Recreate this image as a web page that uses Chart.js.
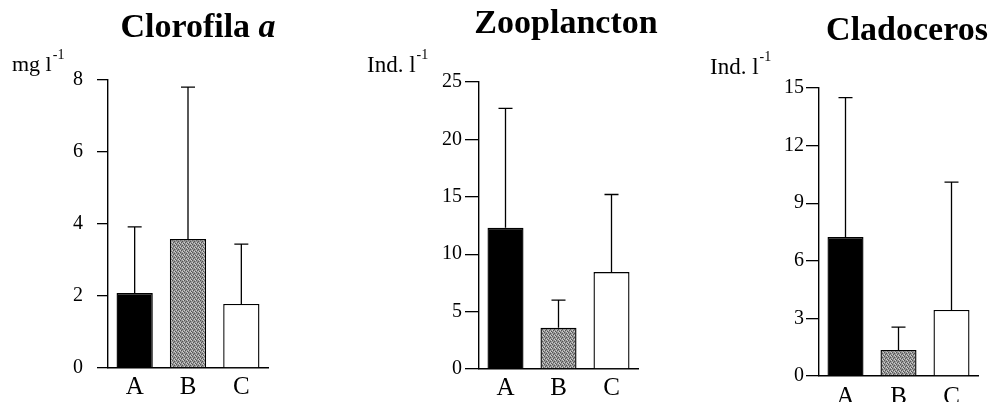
<!DOCTYPE html>
<html>
<head>
<meta charset="utf-8">
<script src="https://cdn.jsdelivr.net/npm/chart.js@4.4.1/dist/chart.umd.min.js"></script>
<style>
  html, body { margin: 0; padding: 0; background: #fff; }
  #wrap { position: relative; width: 994px; height: 402px; }
  #wrap canvas { position: absolute; left: 0; top: 0; }
</style>
</head>
<body>
<div id="wrap">
  <canvas id="c1" width="994" height="402"></canvas>
  <canvas id="c2" width="994" height="402"></canvas>
  <canvas id="c3" width="994" height="402"></canvas>
</div>
<script>
// Data
const categories = ['A', 'B', 'C'];

const clorofilaMean = [2.08, 3.58, 1.78];
const clorofilaErr = [3.92, 7.8, 3.44];

const zooMean = [12.3, 3.6, 8.45];
const zooErr = [22.7, 6.0, 15.2];

const cladoMean = [7.24, 1.35, 3.44];
const cladoErr = [14.5, 2.55, 10.1];

const serif = "'Liberation Serif', 'Times New Roman', serif";

// grey stipple for group B
function makeStipple() {
  const c = document.createElement('canvas');
  c.width = 4; c.height = 4;
  const x = c.getContext('2d');
  x.fillStyle = '#959595';
  x.fillRect(0, 0, 4, 4);
  x.fillStyle = '#555';
  [[0, 0], [2, 1], [1, 2], [3, 3]].forEach(p => x.fillRect(p[0], p[1], 1, 1));
  x.fillStyle = '#cfcfcf';
  [[2, 3], [0, 2], [3, 0]].forEach(p => x.fillRect(p[0], p[1], 1, 1));
  return x.createPattern(c, 'repeat');
}
const stipple = makeStipple();

// error bars + titles drawn on top
const extras = {
  id: 'extras',
  afterDatasetsDraw(chart, args, opts) {
    const ctx = chart.ctx;
    const y = chart.scales.y;
    const meta = chart.getDatasetMeta(0);
    ctx.save();
    ctx.strokeStyle = '#000';
    ctx.lineWidth = 1.3;
    meta.data.forEach((bar, i) => {
      const top = y.getPixelForValue(opts.err[i]);
      ctx.beginPath();
      ctx.moveTo(bar.x, bar.y);
      ctx.lineTo(bar.x, top);
      ctx.moveTo(bar.x - 7, top);
      ctx.lineTo(bar.x + 7, top);
      ctx.stroke();
    });
    ctx.restore();
  },
  afterDraw(chart, args, opts) {
    const ctx = chart.ctx;
    ctx.save();
    ctx.fillStyle = '#000';
    ctx.textBaseline = 'alphabetic';
    // title
    ctx.font = 'bold 34px ' + serif;
    ctx.textAlign = 'center';
    if (opts.italic) {
      const w1 = ctx.measureText(opts.title + ' ').width;
      ctx.font = 'bold italic 34px ' + serif;
      const w2 = ctx.measureText(opts.italic).width;
      const x0 = opts.titleX - (w1 + w2) / 2;
      ctx.textAlign = 'left';
      ctx.font = 'bold 34px ' + serif;
      ctx.fillText(opts.title + ' ', x0, opts.titleY);
      ctx.font = 'bold italic 34px ' + serif;
      ctx.fillText(opts.italic, x0 + w1, opts.titleY);
    } else {
      ctx.fillText(opts.title, opts.titleX, opts.titleY);
    }
    // unit label with superscript
    ctx.textAlign = 'left';
    ctx.font = opts.unitSize + 'px ' + serif;
    ctx.fillText(opts.unit, opts.unitX, opts.unitY);
    const uw = ctx.measureText(opts.unit).width;
    ctx.font = Math.round(opts.unitSize * 0.62) + 'px ' + serif;
    ctx.fillText('-1', opts.unitX + uw + 1, opts.unitY - Math.round(opts.unitSize * 0.55));
    ctx.restore();
  }
};

function panel(id, mean, err, p) {
  const canvas = document.getElementById(id);
  new Chart(canvas, {
    type: 'bar',
    data: {
      labels: categories,
      datasets: [{
        data: mean,
        backgroundColor: ['#000000', stipple, '#ffffff'],
        borderColor: '#000',
        borderWidth: 1.4,
        barPercentage: 0.68,
        categoryPercentage: 1
      }]
    },
    options: {
      responsive: false,
      animation: false,
      events: [],
      layout: { padding: { left: 0, right: 994 - p.right, top: p.top, bottom: 0 } },
      plugins: {
        legend: { display: false },
        tooltip: { enabled: false },
        extras: { err: err, title: p.title, italic: p.italic, titleX: p.titleX, titleY: p.titleY,
                  unit: p.unit, unitX: p.unitX, unitY: p.unitY, unitSize: p.unitSize }
      },
      scales: {
        x: {
          grid: { display: false, drawTicks: false },
          border: { display: true, color: '#000', width: 1.4 },
          ticks: { color: '#000', padding: p.xPad, font: { family: serif, size: 25 } },
          afterFit: s => { s.height = 402 - p.bottom; }
        },
        y: {
          min: 0,
          max: p.max,
          grid: { drawOnChartArea: false, drawTicks: true, tickLength: p.tickLen, color: '#000', lineWidth: 1.3 },
          border: { display: true, color: '#000', width: 1.4 },
          ticks: { stepSize: p.step, color: '#000', padding: p.tickPad, font: { family: serif, size: 20 } },
          afterFit: s => { s.width = p.axisX; }
        }
      }
    },
    plugins: [extras]
  });
}

panel('c1', clorofilaMean, clorofilaErr, {
  axisX: 108, right: 268, top: 80, bottom: 368, max: 8, step: 2, tickLen: 11, tickPad: 14, xPad: 4,
  title: 'Clorofila', italic: 'a', titleX: 198, titleY: 37,
  unit: 'mg l', unitX: 12, unitY: 71, unitSize: 22
});
panel('c2', zooMean, zooErr, {
  axisX: 479, right: 638, top: 82, bottom: 369, max: 25, step: 5, tickLen: 14, tickPad: 3, xPad: 4,
  title: 'Zooplancton', titleX: 566, titleY: 33,
  unit: 'Ind. l', unitX: 367, unitY: 72, unitSize: 23
});
panel('c3', cladoMean, cladoErr, {
  axisX: 819, right: 978, top: 88, bottom: 376, max: 15, step: 3, tickLen: 13, tickPad: 2, xPad: 6,
  title: 'Cladoceros', titleX: 907, titleY: 40,
  unit: 'Ind. l', unitX: 710, unitY: 74, unitSize: 23
});
</script>
</body>
</html>
